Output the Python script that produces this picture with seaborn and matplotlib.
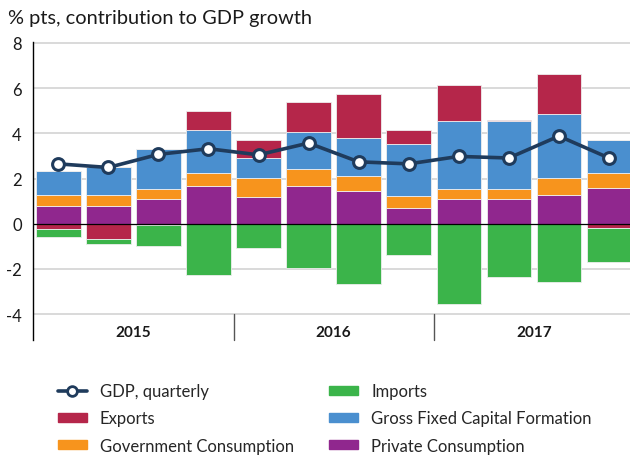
import numpy as np
import matplotlib
matplotlib.use("Agg")
import matplotlib.pyplot as plt
from matplotlib.patches import Patch
from matplotlib.lines import Line2D
import seaborn as sns

# quarterly contributions, 2015 Q1 .. 2017 Q4
quarters = ["2015Q1", "2015Q2", "2015Q3", "2015Q4",
            "2016Q1", "2016Q2", "2016Q3", "2016Q4",
            "2017Q1", "2017Q2", "2017Q3", "2017Q4"]
private = [0.78, 0.78, 1.11, 1.68, 1.18, 1.68, 1.45, 0.71, 1.11, 1.11, 1.27, 1.59]
government = [0.50, 0.50, 0.41, 0.58, 0.84, 0.74, 0.66, 0.50, 0.41, 0.41, 0.75, 0.67]
gfcf = [1.04, 1.23, 1.78, 1.87, 0.90, 1.62, 1.70, 2.34, 3.01, 3.01, 2.83, 1.46]
exports = [-0.25, -0.66, -0.07, 0.88, 0.80, 1.37, 1.94, 0.58, 1.62, 0.07, 1.79, -0.18]
imports = [-0.33, -0.24, -0.92, -2.29, -1.06, -1.95, -2.68, -1.39, -3.57, -2.36, -2.60, -1.53]
gdp = [2.65, 2.49, 3.07, 3.32, 3.05, 3.57, 2.74, 2.65, 2.98, 2.91, 3.88, 2.91]
years = ["2015", "2016", "2017"]

c_priv = "#90278e"
c_gov = "#f7941d"
c_gfcf = "#4a8fcf"
c_exp = "#b5264a"
c_imp = "#3bb44a"
c_gdp = "#1f3b5c"

sns.set_theme(style="white")
plt.rcParams["font.family"] = ["Lato", "DejaVu Sans"]
plt.rcParams["axes.unicode_minus"] = False

fig = plt.figure(figsize=(6.3, 4.56), dpi=100)
ax = fig.add_axes([0.052, 0.252, 0.948, 0.654])

x = np.arange(len(quarters))
w = 0.89
ekw = dict(width=w, edgecolor="#eeeeee", linewidth=0.6, zorder=3)

priv = np.array(private)
gov = np.array(government)
inv = np.array(gfcf)
exp_ = np.array(exports)
imp = np.array(imports)

ax.bar(x, priv, color=c_priv, **ekw)
ax.bar(x, gov, bottom=priv, color=c_gov, **ekw)
ax.bar(x, inv, bottom=priv + gov, color=c_gfcf, **ekw)
exp_pos = np.where(exp_ > 0, exp_, 0)
exp_neg = np.where(exp_ < 0, exp_, 0)
ax.bar(x, exp_pos, bottom=priv + gov + inv, color=c_exp, **ekw)
ax.bar(x, exp_neg, color=c_exp, **ekw)
ax.bar(x, imp, bottom=exp_neg, color=c_imp, **ekw)

sns.lineplot(x=x, y=gdp, ax=ax, color=c_gdp, lw=2.6, marker="o", markersize=8.5,
             markerfacecolor="white", markeredgecolor=c_gdp, markeredgewidth=2.2, zorder=5)

ax.set_xlim(-0.51, 11.42)
ax.set_ylim(-5.15, 8.05)
ax.set_yticks(np.arange(-4, 9, 2))
ax.tick_params(axis="y", labelsize=12, length=0, pad=8, colors="#1a1a1a")
ax.set_xticks([])
for yv in np.arange(-4, 9, 2):
    if yv != 0:
        ax.axhline(yv, color="#d9d9d9", lw=1.4, zorder=1)
ax.axhline(0, color="black", lw=0.9, zorder=4)

for s in ["top", "right", "bottom"]:
    ax.spines[s].set_visible(False)
ax.spines["left"].set_color("black")
ax.spines["left"].set_linewidth(1.0)

# year bands below the plot
for xs in [3.5, 7.5]:
    ax.plot([xs, xs], [-4.0, -5.15], color="#555555", lw=1.0, clip_on=False)
for i, yr in enumerate(years):
    ax.text(1.5 + 4 * i, -4.8, yr, ha="center", va="center", fontsize=11,
            fontweight="bold", color="#1a1a1a")

fig.text(0.013, 0.96, "% pts, contribution to GDP growth", fontsize=14.4,
         ha="left", va="center", color="#1a1a1a")

handles = [
    Line2D([], [], color=c_gdp, lw=2.6, marker="o", markersize=7,
           markerfacecolor="white", markeredgecolor=c_gdp, markeredgewidth=2),
    Patch(color=c_exp), Patch(color=c_gov),
    Patch(color=c_imp), Patch(color=c_gfcf), Patch(color=c_priv),
]
labels = ["GDP, quarterly", "Exports", "Government Consumption",
          "Imports", "Gross Fixed Capital Formation", "Private Consumption"]
fig.legend(handles, labels, ncol=2, loc="upper left", bbox_to_anchor=(0.081, 0.172),
           frameon=False, fontsize=12, handlelength=1.75, handleheight=0.45,
           columnspacing=2.1, labelspacing=0.67, handletextpad=0.78, borderaxespad=0)

fig.savefig("out.png", dpi=100)
